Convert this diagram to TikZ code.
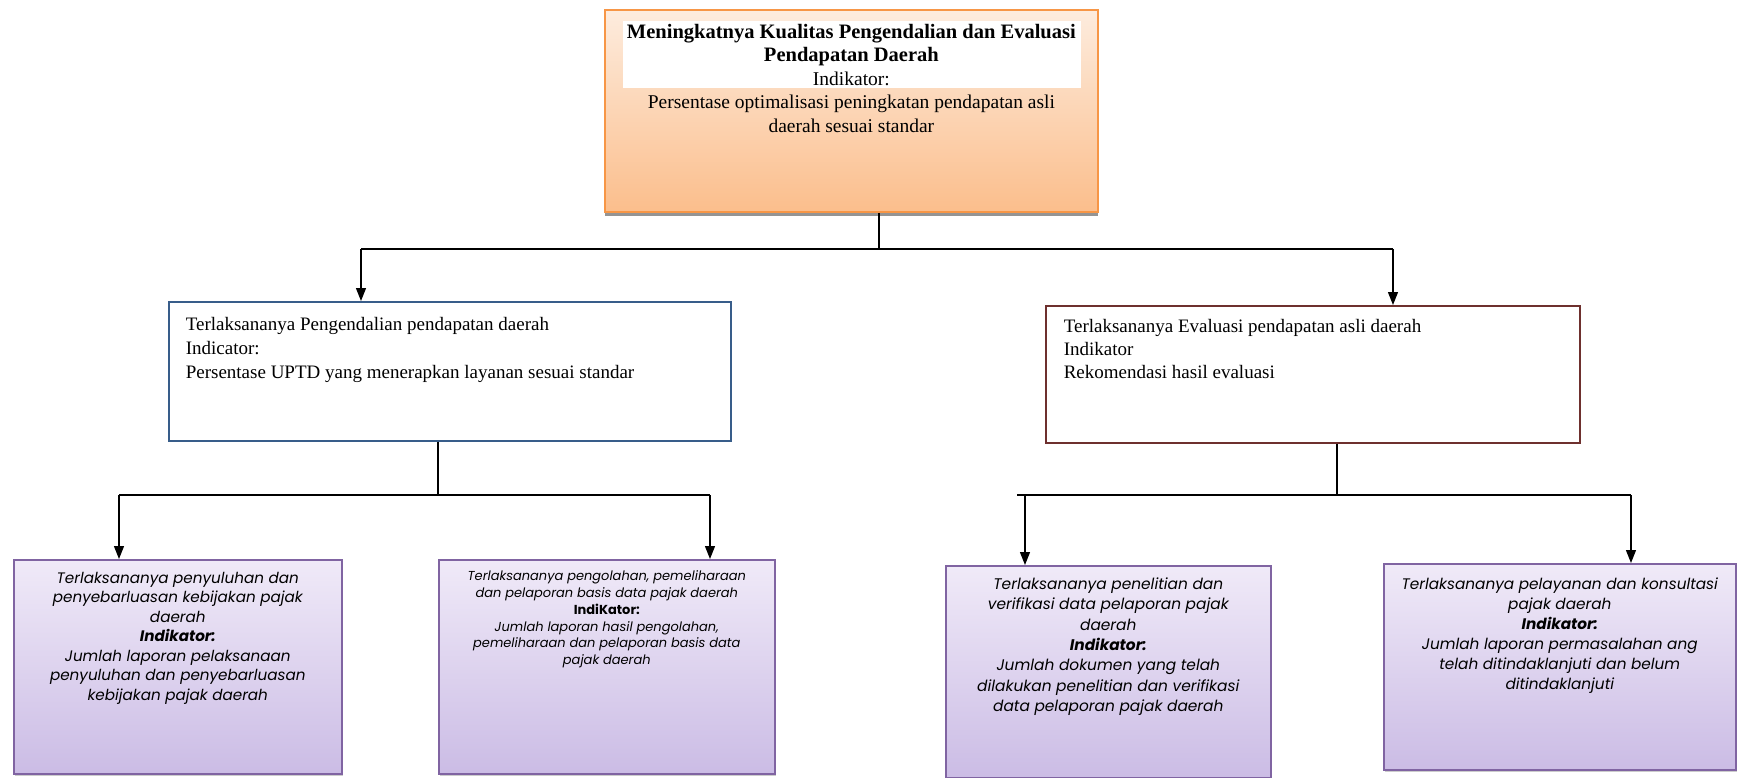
\documentclass[tikz,border=0pt]{standalone}
\usepackage{fontspec}
\setmainfont{Liberation Serif}
\newfontfamily\gothic{Poppins}
\usetikzlibrary{arrows.meta,shadows,calc}
\definecolor{orfill1}{RGB}{253,236,222}
\definecolor{orfill2}{RGB}{251,190,140}
\definecolor{ordraw}{RGB}{247,150,70}
\definecolor{bluedraw}{RGB}{56,93,138}
\definecolor{reddraw}{RGB}{110,48,46}
\definecolor{pufill1}{RGB}{240,234,248}
\definecolor{pufill2}{RGB}{203,188,229}
\definecolor{pudraw}{RGB}{128,100,162}
\begin{document}
\begin{tikzpicture}[x=1pt,y=-1pt,
  conn/.style={line width=1.3pt,black},
  barline/.style={line width=2.6pt,black},
  arr/.style={line width=1.3pt,black,-{Triangle[length=13pt,width=10pt]}},
  topbox/.style={draw=ordraw,line width=1.8pt,top color=orfill1,bottom color=orfill2,
    drop shadow={shadow xshift=0pt,shadow yshift=-4pt,fill=black!60,opacity=0.7},
    inner sep=0pt,anchor=north west},
  midbox/.style={line width=1.6pt,fill=white,inner sep=0pt,anchor=north west},
  lowbox/.style={draw=pudraw,line width=1.6pt,top color=pufill1,bottom color=pufill2,
    drop shadow={shadow xshift=1pt,shadow yshift=-2pt,fill=black!40,opacity=0.5},
    inner sep=0pt,anchor=north west},
]
\useasboundingbox (0,0) rectangle (1738,778);

% top box
\node[topbox,path picture={\fill[white] ([xshift=18pt,yshift=-11pt]path picture bounding box.north west) rectangle ([xshift=476pt,yshift=-78pt]path picture bounding box.north west);}] (top) at (604,9)
 {\begin{minipage}[t][202pt][t]{493pt}\centering\fontsize{19.5}{23.5}\selectfont
  \vspace*{14pt}
  {\fontsize{20.5}{23.5}\selectfont\textbf{Meningkatnya Kualitas Pengendalian dan Evaluasi}}\\
  {\fontsize{20.5}{23.5}\selectfont\textbf{Pendapatan Daerah}}\\
  Indikator:\\
  Persentase optimalisasi peningkatan pendapatan asli\\
  daerah sesuai standar\par\vfill\end{minipage}};

% level 2
\node[midbox,draw=bluedraw] (L) at (168,301)
 {\begin{minipage}[t][139pt][t]{562pt}\raggedright\leftskip=17pt\fontsize{19}{24}\selectfont
  \vspace*{16pt}
  Terlaksananya Pengendalian pendapatan daerah\\
  Indicator:\\
  Persentase UPTD yang menerapkan layanan sesuai standar\par\vfill\end{minipage}};
\node[midbox,draw=reddraw] (R) at (1045,305)
 {\begin{minipage}[t][137pt][t]{534pt}\raggedright\leftskip=18pt\fontsize{19}{23}\selectfont
  \vspace*{14pt}
  Terlaksananya Evaluasi pendapatan asli daerah\\
  Indikator\\
  Rekomendasi hasil evaluasi\par\vfill\end{minipage}};

% level 3
\node[lowbox] (B1) at (13,559)
 {\begin{minipage}[t][214pt][t]{328pt}\centering\gothic\itshape\fontsize{15.2}{19.5}\selectfont
  \vspace*{12pt}
  Terlaksananya penyuluhan dan\\
  penyebarluasan kebijakan pajak\\
  daerah\\
  \textbf{Indikator:}\\
  Jumlah laporan pelaksanaan\\
  penyuluhan dan penyebarluasan\\
  kebijakan pajak daerah\par\vfill\end{minipage}};
\node[lowbox] (B2) at (438,559)
 {\begin{minipage}[t][214pt][t]{336pt}\centering\gothic\itshape\fontsize{13}{16.8}\selectfont
  \vspace*{11pt}
  Terlaksananya pengolahan, pemeliharaan\\
  dan pelaporan basis data pajak daerah\\
  {\upshape\bfseries IndiKator:}\\
  Jumlah laporan hasil pengolahan,\\
  pemeliharaan dan pelaporan basis data\\
  pajak daerah\par\vfill\end{minipage}};
\node[lowbox] (B3) at (945,565)
 {\begin{minipage}[t][212pt][t]{325pt}\centering\gothic\itshape\fontsize{15.4}{20.3}\selectfont
  \vspace*{12pt}
  Terlaksananya penelitian dan\\
  verifikasi data pelaporan pajak\\
  daerah\\
  \textbf{Indikator:}\\
  Jumlah dokumen yang telah\\
  dilakukan penelitian dan verifikasi\\
  data pelaporan pajak daerah\par\vfill\end{minipage}};
\node[lowbox] (B4) at (1383,563)
 {\begin{minipage}[t][206pt][t]{352pt}\centering\gothic\itshape\fontsize{15.3}{20}\selectfont
  \vspace*{14pt}
  Terlaksananya pelayanan dan konsultasi\\
  pajak daerah\\
  \textbf{Indikator:}\\
  Jumlah laporan permasalahan ang\\
  telah ditindaklanjuti dan belum\\
  ditindaklanjuti\par\vfill\end{minipage}};

% connectors level 1 -> 2
\coordinate (t0) at ([xshift=275pt]top.south west);
\coordinate (j1) at (t0 |- 0,249);
\coordinate (aL) at ([xshift=193pt]L.north west);
\coordinate (aR) at ([xshift=348pt]R.north west);
\draw[conn] (t0) -- (j1);
\draw[barline] (aL |- j1) -- (aR |- j1);
\draw[arr] (aL |- j1) -- (aL);
\draw[arr] (aR |- j1) -- (aR);

% connectors L -> B1,B2
\coordinate (s1) at ([xshift=270pt]L.south west);
\coordinate (j2) at (s1 |- 0,495);
\coordinate (a1) at ([xshift=106pt]B1.north west);
\coordinate (a2) at ([xshift=272pt]B2.north west);
\draw[conn] (s1) -- (j2);
\draw[barline] (a1 |- j2) -- (a2 |- j2);
\draw[arr] (a1 |- j2) -- (a1);
\draw[arr] (a2 |- j2) -- (a2);

% connectors R -> B3,B4
\coordinate (s2) at ([xshift=292pt]R.south west);
\coordinate (j3) at (s2 |- 0,495);
\coordinate (a3) at ([xshift=80pt]B3.north west);
\coordinate (a4) at ([xshift=248pt]B4.north west);
\draw[conn] (s2) -- (j3);
\draw[barline] ([xshift=-8pt]a3 |- j3) -- (a4 |- j3);
\draw[arr] (a3 |- j3) -- (a3);
\draw[arr] (a4 |- j3) -- (a4);
\end{tikzpicture}
\end{document}
